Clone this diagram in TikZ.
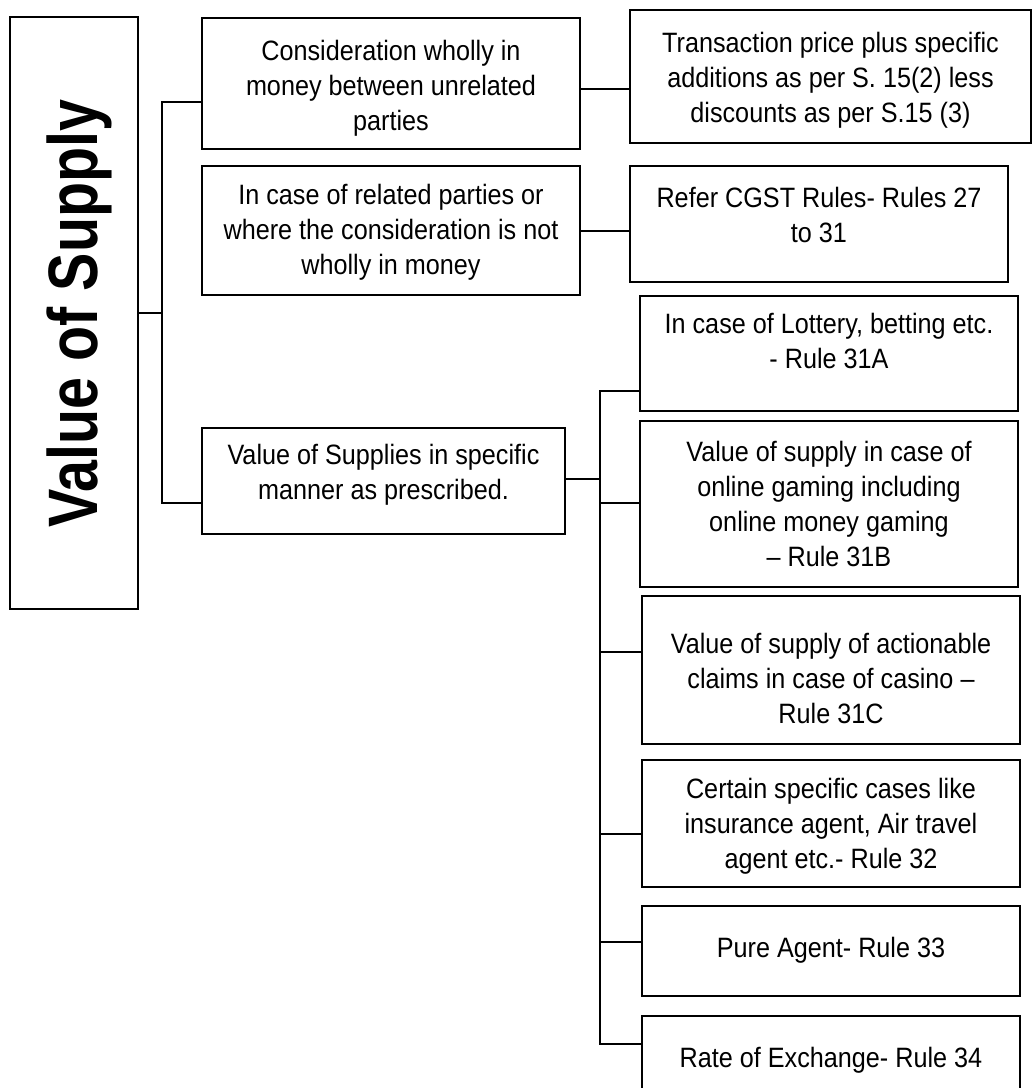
\documentclass[tikz,border=0pt]{standalone}
\usepackage{fontspec}
\setmainfont{Liberation Sans}[FakeStretch=0.9]
\newfontfamily\titlefont{Liberation Sans}[FakeStretch=0.82]
\begin{document}
\begin{tikzpicture}[x=1pt,y=-1pt,
  box/.style={draw, line width=2pt, inner sep=0pt},
  txt/.style={align=center, font=\fontsize{28}{35}\selectfont, inner sep=0pt},
  link/.style={line width=2pt}]
\useasboundingbox (0,0) rectangle (1033,1088);
% boxes
\node[box, minimum width=128pt, minimum height=592pt] (main) at (74,313) {};
\node[box, minimum width=378pt, minimum height=131pt] (b1) at (391,83.5) {};
\node[box, minimum width=401pt, minimum height=133pt] (A) at (830.5,76.5) {};
\node[box, minimum width=378pt, minimum height=129pt] (b2) at (391,230.5) {};
\node[box, minimum width=378pt, minimum height=116pt] (B) at (819,224) {};
\node[box, minimum width=363pt, minimum height=106pt] (b3) at (383.5,481) {};
\node[box, minimum width=378pt, minimum height=115pt] (C) at (829,353.5) {};
\node[box, minimum width=378pt, minimum height=166pt] (D) at (829,504) {};
\node[box, minimum width=378pt, minimum height=148pt] (E) at (831,670) {};
\node[box, minimum width=378pt, minimum height=127pt] (F) at (831,823.5) {};
\node[box, minimum width=378pt, minimum height=90pt] (G) at (831,951) {};
\node[box, minimum width=378pt, minimum height=80pt] (H) at (831,1056) {};
% texts
\node[rotate=90, anchor=base, inner sep=0pt, font=\titlefont\bfseries\fontsize{70}{80}\selectfont] (title) at (97,313.5) {Value of Supply};
\node[txt] (t1) at (391,88) {Consideration wholly in\\money between unrelated\\parties};
\node[txt] (tA) at (830.5,80) {Transaction price plus specific\\additions as per S. 15(2) less\\discounts as per S.15 (3)};
\node[txt] (t2) at (391,232) {In case of related parties or\\where the consideration is not\\wholly in money};
\node[txt] (tB) at (819,215) {Refer CGST Rules- Rules 27\\to 31};
\node[txt] (t3) at (383.5,475) {Value of Supplies in specific\\manner as prescribed.};
\node[txt] (tC) at (829,340.5) {In case of Lottery, betting etc.\\- Rule 31A};
\node[txt] (tD) at (829,504) {Value of supply in case of\\online gaming including\\online money gaming\\– Rule 31B};
\node[txt] (tE) at (831,678) {Value of supply of actionable\\claims in case of casino –\\Rule 31C};
\node[txt] (tF) at (831,826) {Certain specific cases like\\insurance agent, Air travel\\agent etc.- Rule 32};
\node[txt] (tG) at (831,950) {Pure Agent- Rule 33};
\node[txt] (tH) at (831,1060) {Rate of Exchange- Rule 34};
% connectors
\coordinate (bus1) at (162,102);
\coordinate (bus3) at (162,503);
\draw[link] (main.east) -- (main.east -| bus1);
\draw[link] (bus1 -| b1.west) -- (bus1) -- (bus3) -- (bus3 -| b3.west);
\coordinate (k1) at (600,89);
\draw[link] (k1 -| b1.east) -- (k1 -| A.west);
\draw[link] (b2.east) -- (b2.east -| B.west);
\coordinate (r3) at (600,479);
\draw[link] (r3 -| b3.east) -- (r3);
\coordinate (rC) at (600,391);
\coordinate (rD) at (600,503);
\coordinate (rE) at (600,652);
\coordinate (rF) at (600,834);
\coordinate (rG) at (600,942);
\coordinate (rH) at (600,1044);
\draw[link] (rC -| C.west) -- (rC) -- (rH) -- (rH -| H.west);
\draw[link] (rD) -- (rD -| D.west);
\draw[link] (rE) -- (rE -| E.west);
\draw[link] (rF) -- (rF -| F.west);
\draw[link] (rG) -- (rG -| G.west);
\end{tikzpicture}
\end{document}
